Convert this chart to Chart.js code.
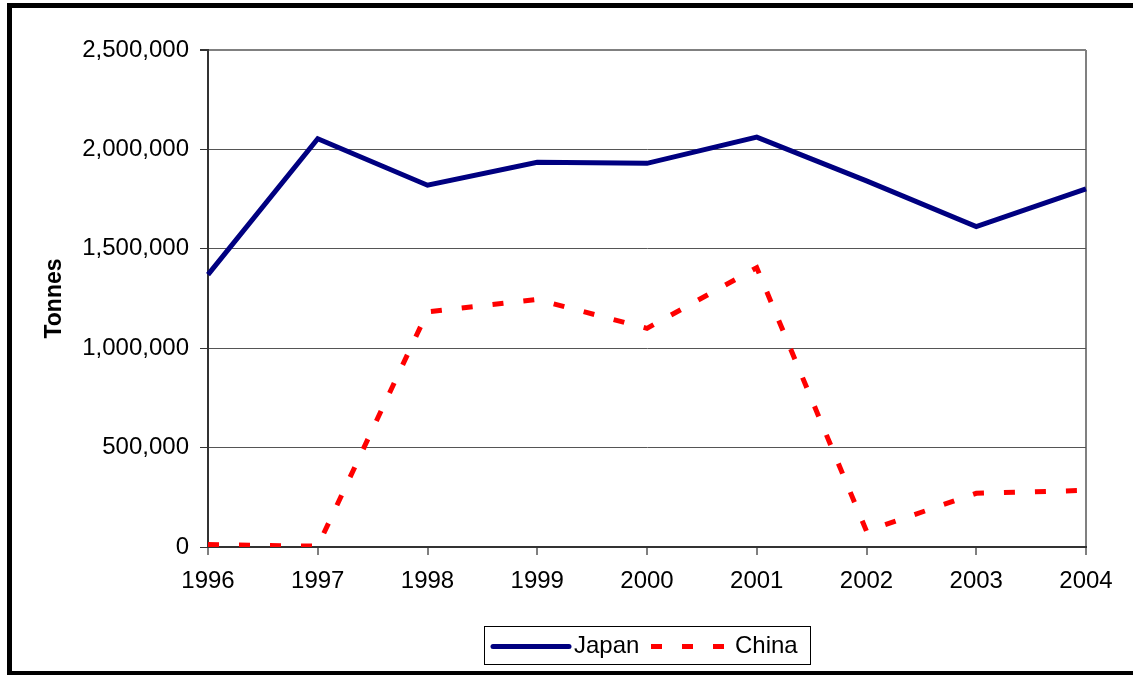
<!DOCTYPE html>
<html>
<head>
<meta charset="utf-8">
<script src="https://cdn.jsdelivr.net/npm/chart.js@4.4.1/dist/chart.umd.min.js"></script>
<style>
  html, body { margin: 0; padding: 0; background: #fff; }
  #wrap { position: relative; width: 1133px; height: 675px; }
</style>
</head>
<body>
<div id="wrap"><canvas id="c" width="1133" height="675"></canvas></div>
<script>
// Annual tonnage by importing country
const years = ['1996', '1997', '1998', '1999', '2000', '2001', '2002', '2003', '2004'];
const japan = [1370000, 2054000, 1820000, 1935000, 1930000, 2062000, 1842000, 1612000, 1802000];
const china = [12000, 4000, 1183000, 1245000, 1100000, 1405000, 80000, 270000, 285000];
const yTicks = [0, 500000, 1000000, 1500000, 2000000, 2500000];

const FONT = 'Liberation Sans, Arial, Helvetica, sans-serif';

// Black frame around the whole figure
const framePlugin = {
  id: 'frame',
  afterDraw(chart) {
    const ctx = chart.ctx;
    ctx.save();
    ctx.strokeStyle = '#000';
    ctx.lineWidth = 5;
    ctx.strokeRect(9.5, 5.5, 1130, 668);
    ctx.restore();
  }
};

// Boxed legend centred under the plot
const boxLegend = {
  id: 'boxLegend',
  afterDraw(chart) {
    const ctx = chart.ctx;
    const ds = chart.data.datasets;
    const x0 = 484.5, y0 = 626.5, w = 326, h = 38;
    ctx.save();
    ctx.fillStyle = '#fff';
    ctx.fillRect(x0, y0, w, h);
    ctx.strokeStyle = '#000';
    ctx.lineWidth = 1;
    ctx.strokeRect(x0, y0, w, h);
    const cy = y0 + h / 2 + 1;
    ctx.font = '24px ' + FONT;
    ctx.textBaseline = 'middle';
    ctx.fillStyle = '#000';
    // Japan entry
    ctx.strokeStyle = ds[0].borderColor;
    ctx.lineWidth = 5;
    ctx.lineCap = 'round';
    ctx.beginPath(); ctx.moveTo(493, cy); ctx.lineTo(569, cy); ctx.stroke();
    ctx.fillText(ds[0].label, 574, cy);
    // China entry
    ctx.strokeStyle = ds[1].borderColor;
    ctx.lineCap = 'butt';
    ctx.setLineDash([11, 20]);
    ctx.beginPath(); ctx.moveTo(651, cy); ctx.lineTo(725, cy); ctx.stroke();
    ctx.setLineDash([]);
    ctx.fillText(ds[1].label, 735, cy);
    ctx.restore();
  }
};

new Chart(document.getElementById('c'), {
  type: 'line',
  data: {
    labels: years,
    datasets: [
      {
        label: 'Japan',
        data: japan,
        borderColor: '#000080',
        borderWidth: 5,
        pointRadius: 0,
        tension: 0,
        fill: false
      },
      {
        label: 'China',
        data: china,
        borderColor: '#ff0000',
        borderWidth: 5,
        borderDash: [11, 20],
        pointRadius: 0,
        tension: 0,
        fill: false
      }
    ]
  },
  options: {
    responsive: false,
    animation: false,
    layout: { padding: { left: 0, right: 47, top: 50, bottom: 68 } },
    plugins: {
      legend: { display: false },
      tooltip: { enabled: false }
    },
    scales: {
      x: {
        type: 'category',
        offset: false,
        afterFit(scale) { scale.height = 60; },
        grid: {
          drawOnChartArea: true,
          color: (c) => (c.index === years.length - 1 ? '#808080' : 'rgba(0,0,0,0)'),
          lineWidth: 2,
          tickColor: '#000',
          tickWidth: 1,
          tickLength: 8
        },
        border: { color: '#333', width: 2 },
        ticks: {
          color: '#000',
          font: { family: FONT, size: 24 },
          padding: 12,
          maxRotation: 0,
          autoSkip: false
        }
      },
      y: {
        min: 0,
        max: 2500000,
        afterFit(scale) { scale.width = 208; },
        afterBuildTicks(scale) { scale.ticks = yTicks.map(v => ({ value: v })); },
        grid: {
          color: (c) => (c.tick && c.tick.value === 2500000 ? '#808080' : '#555'),
          lineWidth: (c) => (c.tick && c.tick.value === 2500000 ? 2 : 1),
          tickColor: '#333',
          tickLength: 8
        },
        border: { color: '#333', width: 2 },
        ticks: {
          color: '#000',
          font: { family: FONT, size: 24 },
          padding: 11,
          callback: (v) => Number(v).toLocaleString('en-US')
        },
        title: {
          display: true,
          text: 'Tonnes',
          color: '#000',
          font: { family: FONT, size: 23, weight: 'bold' },
          padding: { top: 41, bottom: 0 }
        }
      }
    }
  },
  plugins: [framePlugin, boxLegend]
});
</script>
</body>
</html>
